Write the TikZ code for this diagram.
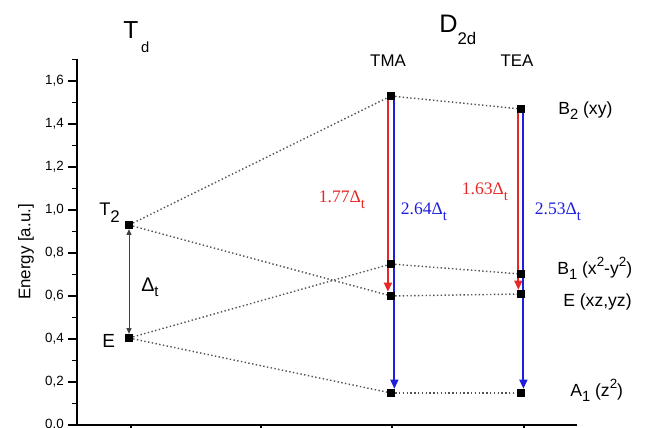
\documentclass[tikz,border=0pt]{standalone}
\usepackage{fontspec}
\setmainfont{Liberation Sans}
\newfontfamily\tnr{Liberation Serif}
\usepackage{tikz}
\usetikzlibrary{arrows.meta, positioning, backgrounds}
\definecolor{splitred}{RGB}{230,40,40}
\definecolor{splitblue}{RGB}{30,30,225}
\newcommand\lo[1]{\raisebox{-4pt}{\fontsize{10.5pt}{12pt}\selectfont #1}}
\newcommand\hi[1]{\raisebox{5pt}{\fontsize{9.5pt}{11pt}\selectfont #1}}

\begin{document}
\begin{tikzpicture}[
  x=0.025cm, y=-0.025cm,
  lvl/.style={rectangle, fill=black, inner sep=0pt, minimum size=5.5pt},
  corr/.style={dash pattern=on 1pt off 1.7pt, gray!65!black, line width=1pt},
  gap/.style={-{Triangle[length=6.5pt,width=5.5pt]}, line width=1.5pt},
  lab/.style={font=\fontsize{12.5pt}{14pt}\selectfont, inner sep=0pt},
  val/.style={font=\tnr\fontsize{12.5pt}{14pt}\selectfont, inner sep=0pt}
]
\useasboundingbox (0,0) rectangle (648,427);

% axes
\draw[line width=1pt] (77,59) -- (77,425) -- (577,425);
\foreach \i/\lab in {0/{0,0},1/{0,2},2/{0,4},3/{0,6},4/{0,8},5/{1,0},6/{1,2},7/{1,4},8/{1,6}} {
  \draw[line width=0.8pt] (68,425-\i*43) -- (77,425-\i*43);
  \node[anchor=east, inner sep=0pt, font=\fontsize{9.5pt}{11pt}\selectfont] at (64,425-\i*43) {\lab};
}
\foreach \i in {0,...,8}
  \draw[line width=0.8pt] (72,425-\i*43-21.5) -- (77,425-\i*43-21.5);
\foreach \xx in {131,261,392,524}
  \draw[line width=0.8pt] (\xx,425) -- (\xx,434);
\node[rotate=90, lab, font=\fontsize{12pt}{14pt}\selectfont] (ylab) at (26,252) {Energy [a.u.]};

% levels
\node[lvl] (tdT)  at (129,225) {};
\node[lvl] (tdE)  at (129,338) {};
\node[lvl] (maB2) at (391,96)  {};
\node[lvl] (maB1) at (391,264) {};
\node[lvl] (maE)  at (391,296) {};
\node[lvl] (maA1) at (391,393) {};
\node[lvl] (eaB2) at (521,109) {};
\node[lvl] (eaB1) at (521,274) {};
\node[lvl] (eaE)  at (521,294) {};
\node[lvl] (eaA1) at (521,393) {};

\begin{pgfonlayer}{background}
\draw[corr] (tdT) -- (maB2);
\draw[corr] (tdT) -- (maE);
\draw[corr] (tdE) -- (maB1);
\draw[corr] (tdE) -- (maA1);
\draw[corr] (maB2) -- (eaB2);
\draw[corr] (maB1) -- (eaB1);
\draw[corr] (maE) -- (eaE);
\draw[corr] (maA1) -- (eaA1);
\draw[{Triangle[length=4pt,width=3.5pt]}-{Triangle[length=4pt,width=3.5pt]}, gray!50!black, line width=0.7pt]
  (tdE.north) -- (tdT.south);
\draw[gap, splitred]  ([xshift=-2.2pt]maB2.center) -- ([xshift=-2.2pt]maE.north);
\draw[gap, splitblue] ([xshift=2.4pt]maB2.center) -- ([xshift=2.4pt]maA1.north);
\draw[gap, splitred]  ([xshift=-1.9pt]eaB2.center) -- ([xshift=-1.9pt]eaE.north);
\draw[gap, splitblue] ([xshift=1.7pt]eaB2.center) -- ([xshift=1.7pt]eaA1.north);
\end{pgfonlayer}

% group labels
\node[anchor=base west, inner sep=0pt, font=\fontsize{17.5pt}{20pt}\selectfont] (tdlab) at (123,38)
  {T\kern2pt\raisebox{-10pt}{\fontsize{10.5pt}{12pt}\selectfont d}};
\node[anchor=base west, inner sep=0pt, font=\fontsize{18pt}{20pt}\selectfont] (dlab) at (439,33)
  {D\raisebox{-8.5pt}{\fontsize{12pt}{14pt}\selectfont 2d}};
\node[lab, font=\fontsize{12pt}{14pt}\selectfont] (tma) at (388,61) {TMA};
\node[lab, font=\fontsize{12pt}{14pt}\selectfont] (tea) at (517,61) {TEA};

% Td labels
\node[anchor=base west, inner sep=0pt, font=\fontsize{13pt}{15pt}\selectfont] (tdTlab) at (99,215)
  {T\raisebox{-5pt}{\fontsize{12pt}{14pt}\selectfont 2}};
\node[anchor=base west, inner sep=0pt, font=\fontsize{13.5pt}{15pt}\selectfont] (tdElab) at (102,347) {E};
\node[anchor=base west, inner sep=0pt, font=\fontsize{14pt}{16pt}\selectfont] (dtlab) at (141,291)
  {Δ\raisebox{-4pt}{\fontsize{10.5pt}{12pt}\selectfont t}};

% D2d labels
\node[anchor=base west, lab] (b2lab) at (558,114) {B\lo{2} (xy)};
\node[anchor=base west, lab] (b1lab) at (557,274) {B\lo{1} (x\hi{2}-y\hi{2})};
\node[anchor=base west, lab] (elab)  at (563,306) {E (xz,yz)};
\node[anchor=base west, lab] (a1lab) at (570,396) {A\lo{1} (z\hi{2})};

% splittings
\node[val, text=splitred]  (r1) at (342,200) {1.77Δ\lo{t}};
\node[val, text=splitblue] (b1) at (424,212) {2.64Δ\lo{t}};
\node[val, text=splitred]  (r2) at (485,192) {1.63Δ\lo{t}};
\node[val, text=splitblue] (b2) at (558,212) {2.53Δ\lo{t}};
\end{tikzpicture}
\end{document}
